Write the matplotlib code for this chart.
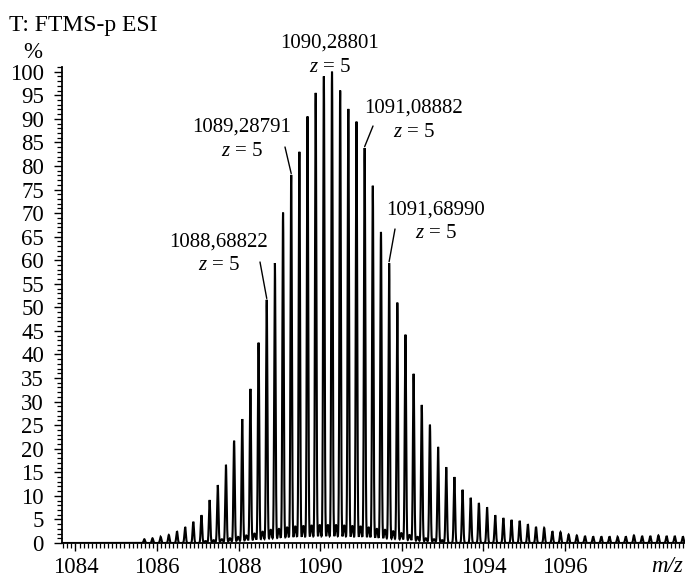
import numpy as np
import matplotlib
matplotlib.use("Agg")
import matplotlib.pyplot as plt
from matplotlib.ticker import MultipleLocator, FixedLocator

plt.rcParams['font.family'] = ['Liberation Serif', 'DejaVu Serif']
plt.rcParams['mathtext.fontset'] = 'custom'
plt.rcParams['mathtext.rm'] = 'Liberation Serif'
plt.rcParams['mathtext.it'] = 'Liberation Serif:italic'

# main isotope series (centroid m/z, relative intensity %)
main_mz = [1085.688, 1085.888, 1086.088, 1086.288, 1086.488, 1086.688, 1086.888, 1087.088,
           1087.288, 1087.488, 1087.688, 1087.888, 1088.088, 1088.288, 1088.488, 1088.688,
           1088.888, 1089.088, 1089.288, 1089.488, 1089.688, 1089.888, 1090.088, 1090.288,
           1090.488, 1090.688, 1090.888, 1091.088, 1091.288, 1091.488, 1091.688, 1091.888,
           1092.088, 1092.288, 1092.488, 1092.688, 1092.888, 1093.088, 1093.288, 1093.488,
           1093.688, 1093.888, 1094.088, 1094.288, 1094.488, 1094.688, 1094.888, 1095.088,
           1095.288, 1095.488, 1095.688, 1095.888, 1096.088, 1096.288, 1096.488, 1096.688,
           1096.888, 1097.088, 1097.288, 1097.488, 1097.688, 1097.888, 1098.088, 1098.288,
           1098.488, 1098.688, 1098.888]
main_int = [0.8, 1.0, 1.3, 1.7, 2.5, 3.4, 4.5, 5.9,
            9.1, 12.3, 16.6, 21.7, 26.3, 32.7, 42.5, 51.6,
            59.4, 70.1, 78.1, 83.0, 90.5, 95.5, 99.0, 100.0,
            96.0, 92.1, 89.4, 83.8, 75.8, 66.0, 59.4, 51.0,
            44.2, 35.9, 29.3, 25.1, 20.4, 16.1, 14.0, 11.3,
            9.6, 8.5, 7.6, 5.9, 5.3, 4.9, 4.7, 4.0,
            3.4, 3.2, 2.5, 2.3, 1.8, 1.6, 1.5, 1.4,
            1.4, 1.4, 1.3, 1.4, 1.6, 1.5, 1.5, 1.6,
            1.5, 1.5, 1.4]

# minor overlapping series
minor_mz = [1087.188, 1087.388, 1087.588, 1087.788, 1087.988, 1088.188, 1088.388, 1088.588,
            1088.788, 1088.988, 1089.188, 1089.388, 1089.588, 1089.788, 1089.988, 1090.188,
            1090.388, 1090.588, 1090.788, 1090.988, 1091.188, 1091.388, 1091.588, 1091.788,
            1091.988, 1092.188, 1092.388, 1092.588, 1092.788, 1092.988]
minor_int = [0.4, 0.6, 0.8, 1.0, 1.3, 1.6, 2.0, 2.4,
             2.8, 3.0, 3.3, 3.5, 3.6, 3.7, 3.8, 3.8,
             3.8, 3.7, 3.6, 3.5, 3.3, 3.0, 2.8, 2.5,
             2.1, 1.7, 1.3, 1.0, 0.8, 0.6]

# labelled x ticks
x_ticks = [1084, 1086, 1088, 1090, 1092, 1094, 1096]

# annotated peaks
ann_mz = [1088.688, 1089.288, 1090.288, 1091.088, 1091.688]
ann_labels = ['1088,68822', '1089,28791', '1090,28801', '1091,08882', '1091,68990']

W, H = 685, 577
fig = plt.figure(figsize=(W / 100, H / 100), dpi=100)
ax = fig.add_axes([62 / W, 34 / H, (W - 62) / W, (543 - 67) / H])

x = np.arange(1083.6, 1099.0, 0.002)
y = np.zeros_like(x)
sig = 0.017
for m, h in zip(main_mz, main_int):
    y += h * np.exp(-0.5 * ((x - m) / sig) ** 2)
for m, h in zip(minor_mz, minor_int):
    y += h * np.exp(-0.5 * ((x - m) / (sig * 1.6)) ** 2)
ax.plot(x, y, color='black', lw=1.5, solid_joinstyle='miter')

ax.set_xlim(1083.67, 1098.94)
ax.set_ylim(0, 101)
for s in ['top', 'right']:
    ax.spines[s].set_visible(False)
ax.spines['left'].set_linewidth(1.3)
ax.spines['bottom'].set_linewidth(1.3)

ax.xaxis.set_major_locator(FixedLocator(x_ticks))
ax.xaxis.set_minor_locator(MultipleLocator(0.1))
ax.yaxis.set_major_locator(MultipleLocator(5))
ax.yaxis.set_minor_locator(MultipleLocator(1))
ax.tick_params(axis='both', which='major', direction='out', length=6, width=1.0, labelsize=16.5)
ax.tick_params(axis='both', which='minor', direction='out', length=3.5, width=0.9)
ax.tick_params(axis='y', which='major', pad=7)
ax.tick_params(axis='x', which='major', pad=4)

# header texts
fig.text(9 / W, 1 - 25 / H, 'T: FTMS-p ESI', fontsize=17, ha='left', va='center')
fig.text(33 / W, 1 - 52 / H, '%', fontsize=16.5, ha='center', va='center')
fig.text(683 / W, 1 - 567 / H, 'm/z', fontsize=16.5, ha='right', va='center', style='italic')

# annotations: text centre (px), leader line start (px) or None
ann_text_px = [(219, 242), (242, 127), (330, 43), (414, 108), (436, 210)]
ann_line_px = [(260, 262), (285, 147), None, (373, 126), (395, 229)]
for m, lab, (tx, ty), lp in zip(ann_mz, ann_labels, ann_text_px, ann_line_px):
    h = main_int[main_mz.index(m)]
    fig.text(tx / W, 1 - ty / H, lab, fontsize=15, ha='center', va='center')
    fig.text(tx / W, 1 - (ty + 24) / H, '$z$ = 5', fontsize=15, ha='center', va='center')
    if lp is not None:
        ax.annotate('', xy=(m, h + 0.3), xycoords='data',
                    xytext=(lp[0], H - lp[1]), textcoords='figure pixels',
                    arrowprops=dict(arrowstyle='-', lw=1.0, color='black',
                                    shrinkA=0, shrinkB=0))

fig.savefig('out.png', dpi=100)
